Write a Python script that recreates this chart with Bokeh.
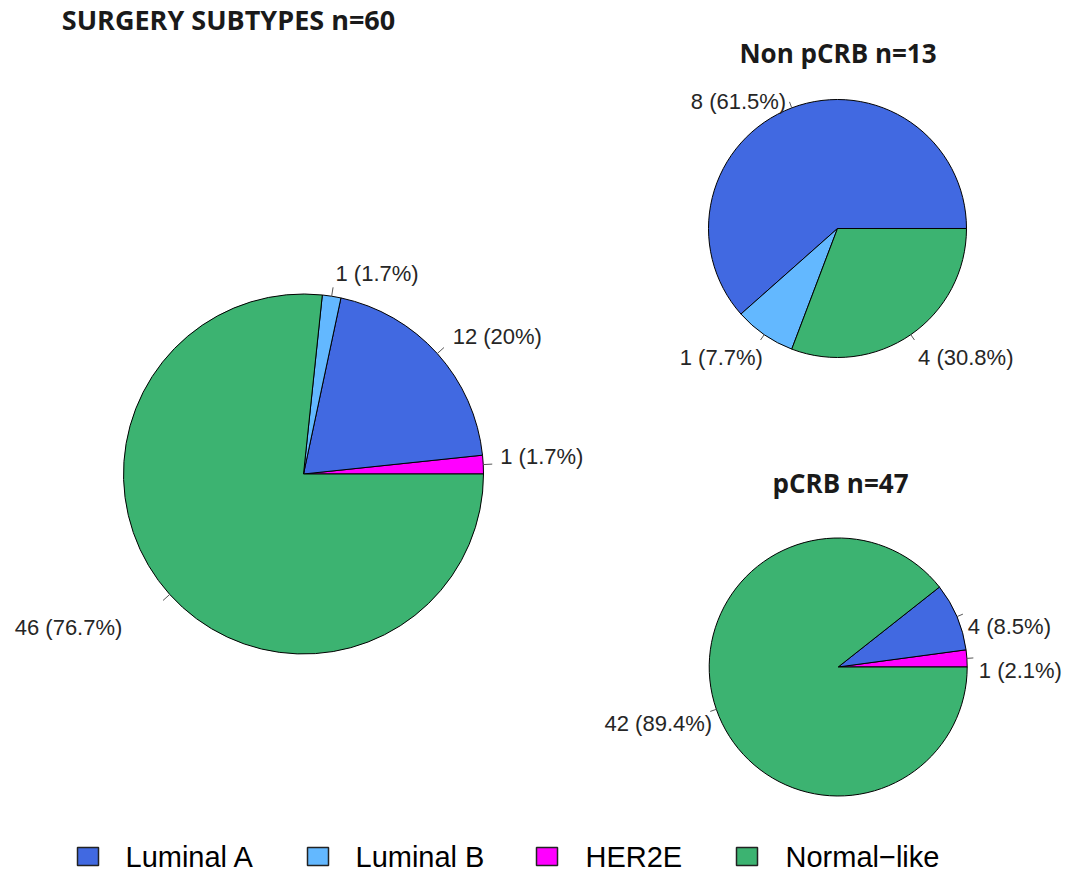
import math
from bokeh.plotting import figure
from bokeh.models import Range1d, ColumnDataSource
from bokeh.embed import file_html
from bokeh.resources import INLINE
from bokeh.core.properties import value

# ---------------- data ----------------
subtypes = ["HER2E", "Luminal A", "Luminal B", "Normal\u2212like"]
subtype_colors = ["#FF00FF", "#4169E1", "#63B8FF", "#3CB371"]
legend_order = ["Luminal A", "Luminal B", "HER2E", "Normal\u2212like"]

surgery_counts = [1, 12, 1, 46]
non_pcrb_counts = [0, 8, 1, 4]
pcrb_counts = [1, 4, 0, 42]
pie_titles = ["SURGERY SUBTYPES n=60", "Non pCRB n=13", "pCRB n=47"]

# ---------------- layout (screen px) ----------------
W, H = 1072, 877
def Y(sy):
    return H - sy

pies = [
    dict(counts=surgery_counts, title=pie_titles[0], cx=303, cy=473.5, r=180,
         tx=228, ty=19, tsize="27px",
         nudge={"HER2E": (-1, -7), "Luminal A": (2, -5), "Luminal B": (1, -5),
                "Normal\u2212like": (-34, 21)}),
    dict(counts=non_pcrb_counts, title=pie_titles[1], cx=837, cy=228, r=129,
         tx=837.5, ty=52, tsize="26px",
         nudge={"Luminal A": (-1, 6), "Luminal B": (6, 12), "Normal\u2212like": (0, 12)}),
    dict(counts=pcrb_counts, title=pie_titles[2], cx=837.7, cy=666.5, r=129,
         tx=840, ty=482, tsize="26px",
         nudge={"HER2E": (-1, 12.5), "Luminal A": (-1, 15), "Normal\u2212like": (8, 9.5)}),
]

p = figure(width=W, height=H, output_backend="svg", toolbar_location=None,
           x_range=Range1d(0, W), y_range=Range1d(0, H), min_border=0)
p.axis.visible = False
p.grid.visible = False
p.outline_line_color = None
p.background_fill_color = "white"

LABEL_FONT = value("Liberation Sans")

for pie in pies:
    counts = pie["counts"]
    total = sum(counts)
    cx, cy, r = pie["cx"], Y(pie["cy"]), pie["r"]
    starts, ends, cols, names = [], [], [], []
    acc = 0.0
    for name, c, col in zip(subtypes, counts, subtype_colors):
        if c == 0:
            continue
        a0 = 2 * math.pi * acc / total
        acc += c
        a1 = 2 * math.pi * acc / total
        starts.append(a0); ends.append(a1); cols.append(col); names.append((name, c))
    src = ColumnDataSource(dict(x=[cx] * len(starts), y=[cy] * len(starts),
                                start=starts, end=ends, color=cols))
    p.wedge(x="x", y="y", radius=r, start_angle="start", end_angle="end",
            direction="anticlock", fill_color="color", line_color="black",
            line_width=1, source=src)

    tx0, ty0, tx1, ty1 = [], [], [], []
    L = dict(x=[], y=[], t=[]); R = dict(x=[], y=[], t=[])
    for (name, c), a0, a1 in zip(names, starts, ends):
        mid = (a0 + a1) / 2
        ca, sa = math.cos(mid), math.sin(mid)
        tx0.append(cx + r * ca); ty0.append(cy + r * sa)
        tx1.append(cx + 1.05 * r * ca); ty1.append(cy + 1.05 * r * sa)
        pct = round(100 * c / total, 1)
        label = f"{c} ({pct:g}%)"
        dx, dy = pie["nudge"].get(name, (0, 0))
        lx = cx + 1.1 * r * ca + dx
        ly = cy + 1.1 * r * sa - dy
        d = L if ca > 0 else R
        d["x"].append(lx); d["y"].append(ly); d["t"].append(label)
    p.segment(x0=tx0, y0=ty0, x1=tx1, y1=ty1, line_color="#555555", line_width=1)
    p.text(x=L["x"], y=L["y"], text=L["t"], text_align="left", text_baseline="middle",
           text_font=LABEL_FONT, text_font_size="22px", text_color="#262626")
    p.text(x=R["x"], y=R["y"], text=R["t"], text_align="right", text_baseline="middle",
           text_font=LABEL_FONT, text_font_size="22px", text_color="#262626")

    p.text(x=[pie["tx"]], y=[Y(pie["ty"])], text=[pie["title"]], text_align="center",
           text_baseline="middle", text_font=value("Open Sans"), text_font_style="bold",
           text_font_size=pie["tsize"], text_color="#1a1a1a")

# ---------------- legend ----------------
leg_box_x = [87.5, 317.5, 546.5, 746.5]
leg_text_x = [125, 355, 585, 785]
leg_y = Y(856)
color_of = dict(zip(subtypes, subtype_colors))
p.rect(x=leg_box_x, y=[leg_y] * 4, width=21, height=18,
       fill_color=[color_of[n] for n in legend_order], line_color="#222222", line_width=1.5)
p.text(x=leg_text_x, y=[leg_y] * 4, text=legend_order, text_align="left",
       text_baseline="middle", text_font=LABEL_FONT, text_font_size="29px",
       text_color="black")

open("out.html", "w").write(file_html(p, INLINE))
